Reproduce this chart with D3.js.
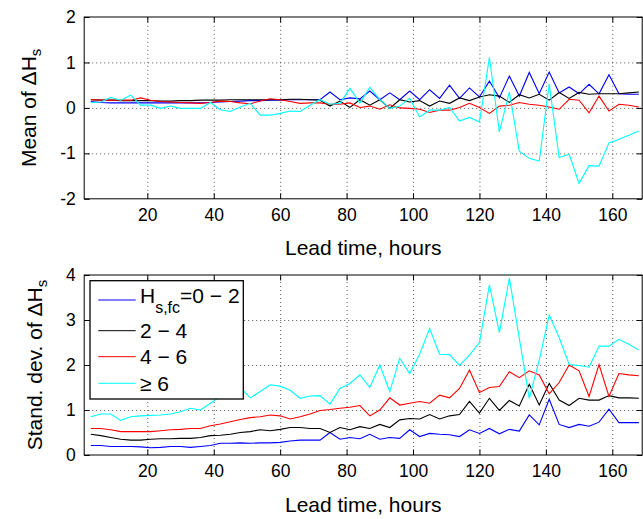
<!DOCTYPE html>
<html>
<head>
<meta charset="utf-8">
<script src="https://cdnjs.cloudflare.com/ajax/libs/d3/7.8.5/d3.min.js"></script>
<style>
  body { margin: 0; background: #fff; }
  svg { font-family: "Liberation Sans", Arial, sans-serif; }
  .tick text { font-size: 17.5px; fill: #000; }
  .tick line { stroke: #000; }
  .grid .tick line { stroke: #555; stroke-dasharray: 1, 3; }
  .domain { display: none; }
</style>
</head>
<body>
<div class="graph-view"></div>
<script>
// lead time, hours (3-hourly)
const leadTimes = [3, 6, 9, 12, 15, 18, 21, 24, 27, 30, 33, 36, 39, 42, 45, 48, 51, 54, 57,
  60, 63, 66, 69, 72, 75, 78, 81, 84, 87, 90, 93, 96, 99, 102, 105, 108, 111, 114, 117,
  120, 123, 126, 129, 132, 135, 138, 141, 144, 147, 150, 153, 156, 159, 162, 165, 168];

// mean of dHs, one array per Hs,fc class
const meanLow = [0.14, 0.12, 0.11, 0.11, 0.11, 0.11, 0.11, 0.11, 0.11, 0.11, 0.11, 0.11, 0.12, 0.13, 0.14, 0.15, 0.16, 0.16, 0.17,
  0.17, 0.18, 0.18, 0.18, 0.18,
  0.35, 0.18, 0.22, 0.20, 0.37, 0.18, 0.33, 0.18, 0.37, 0.18, 0.40, 0.21, 0.50, 0.21, 0.44, 0.24,
  0.59, 0.22, 0.70, 0.26, 0.78, 0.31, 0.79, 0.33, 0.46, 0.31, 0.52, 0.31, 0.73, 0.31, 0.30, 0.30];
const meanMid = [0.18, 0.17, 0.17, 0.16, 0.16, 0.16, 0.16, 0.15, 0.15, 0.16, 0.16, 0.17, 0.17, 0.17, 0.18, 0.18, 0.18, 0.18, 0.18,
  0.18, 0.19, 0.19, 0.18, 0.17,
  0.04, 0.15, 0.01, 0.18, 0.06, 0.18, -0.01, 0.18, 0.13, 0.16, 0.04, 0.15, 0.10, 0.22, 0.16, 0.24,
  0.29, 0.26, 0.12, 0.29, 0.22, 0.30, 0.17, 0.34, 0.21, 0.34, 0.30, 0.31, 0.31, 0.31, 0.33, 0.35];
const meanHigh = [0.18, 0.17, 0.17, 0.17, 0.17, 0.22, 0.17, 0.14, 0.13, 0.12, 0.11, 0.10, 0.12, 0.15, 0.14, 0.11, 0.09, 0.15, 0.20,
  0.18, 0.14, 0.10, 0.11, 0.11,
  0.08, 0.08, 0.11, 0.01, 0.04, -0.03, 0.07, 0.00, -0.01, -0.03, -0.10, -0.05, -0.05, 0.01, 0.10, 0.01,
  -0.12, 0.04, 0.06, 0.12, 0.08, 0.06, 0.02, -0.03, 0.19, 0.17, -0.11, 0.26, -0.07, 0.08, 0.06, 0.02];
const meanTop = [0.12, 0.13, 0.23, 0.17, 0.28, 0.06, 0.06, -0.01, 0.04, -0.01, -0.01, -0.01, 0.12, -0.04, -0.08, 0.02, 0.10, -0.16, -0.16,
  -0.12, -0.07, -0.08, 0.06, 0.18,
  0.08, 0.10, 0.43, 0.11, 0.45, 0.18, -0.01, 0.04, 0.21, -0.20, -0.05, -0.05, 0.01, -0.29, -0.21, -0.31,
  1.11, -0.53, 0.35, -0.95, -1.11, -1.17, 0.53, -1.09, -1.02, -1.66, -1.27, -1.28, -0.77, -0.69, -0.60, -0.51];

// standard deviation of dHs
const sdLow = [0.21, 0.21, 0.19, 0.19, 0.19, 0.18, 0.16, 0.17, 0.19, 0.19, 0.17, 0.19, 0.21, 0.26, 0.26, 0.27, 0.26, 0.27, 0.27,
  0.28, 0.31, 0.33, 0.33, 0.33,
  0.50, 0.35, 0.39, 0.36, 0.46, 0.35, 0.39, 0.37, 0.56, 0.41, 0.48, 0.46, 0.45, 0.41, 0.56, 0.48,
  0.59, 0.47, 0.57, 0.53, 0.89, 0.67, 1.24, 0.68, 0.61, 0.68, 0.64, 0.73, 1.02, 0.72, 0.72, 0.72];
const sdMid = [0.46, 0.43, 0.39, 0.35, 0.33, 0.33, 0.35, 0.36, 0.36, 0.37, 0.37, 0.39, 0.43, 0.44, 0.46, 0.50, 0.52, 0.56, 0.54,
  0.57, 0.61, 0.61, 0.59, 0.59,
  0.50, 0.61, 0.56, 0.63, 0.59, 0.68, 0.61, 0.78, 0.81, 0.80, 0.90, 0.80, 0.87, 0.90, 1.19, 0.93,
  1.26, 0.99, 1.21, 1.09, 1.57, 1.11, 1.59, 1.22, 1.10, 1.26, 1.22, 1.22, 1.32, 1.27, 1.27, 1.26];
const sdHigh = [0.59, 0.59, 0.56, 0.52, 0.52, 0.52, 0.52, 0.54, 0.56, 0.57, 0.59, 0.59, 0.65, 0.69, 0.74, 0.79, 0.83, 0.85, 0.89,
  0.87, 0.80, 0.85, 0.91, 0.99,
  1.01, 1.04, 1.06, 1.10, 0.87, 1.00, 1.27, 1.11, 1.15, 1.19, 1.15, 1.33, 1.27, 1.48, 1.89, 1.39,
  1.50, 1.52, 1.85, 1.72, 1.87, 1.78, 1.36, 1.61, 2.00, 1.87, 1.30, 2.01, 1.30, 1.81, 1.78, 1.76];
const sdTop = [0.85, 0.91, 0.91, 0.77, 0.85, 0.87, 0.88, 0.89, 0.91, 0.96, 1.04, 1.00, 1.15, 1.30, 1.35, 1.50, 1.27, 1.41, 1.56,
  1.53, 1.44, 1.26, 1.31, 1.32,
  1.13, 1.48, 1.59, 1.78, 1.50, 2.00, 1.41, 2.15, 1.81, 2.24, 2.81, 2.24, 2.23, 1.99, 2.22, 2.50,
  3.78, 2.72, 3.93, 2.59, 1.26, 2.11, 3.11, 2.61, 2.01, 1.99, 1.95, 2.42, 2.42, 2.57, 2.46, 2.33];

const xTicks = [20, 40, 60, 80, 100, 120, 140, 160];
const meanTicks = [-2, -1, 0, 1, 2];
const sdTicks = [0, 1, 2, 3, 4];
const colors = ['#0000ff', '#000000', '#ff0000', '#00ffff'];
const legendLabels = ['=0 \u2212 2', '2 \u2212 4', '4 \u2212 6', '\u2265 6'];

const w = 643, h = 519,
  left = 84.2, right = 642.2, tickLen = 5.5;

const svg = d3.select('.graph-view').append('svg')
  .attr('width', w)
  .attr('height', h);

const xScale = d3.scaleLinear()
  .domain([1, 169])
  .range([left, right]);

function drawPanel(top, bottom, domain, ticks, series, label, labelX) {
  const yScale = d3.scaleLinear().domain(domain).range([bottom, top]);
  const g = svg.append('g');

  // grid
  g.append('g').attr('class', 'grid')
    .attr('transform', 'translate(0,' + bottom + ')')
    .call(d3.axisBottom(xScale).tickValues(xTicks).tickSize(-(bottom - top)).tickFormat(''));
  g.append('g').attr('class', 'grid')
    .attr('transform', 'translate(' + left + ',0)')
    .call(d3.axisLeft(yScale).tickValues(ticks.slice(1, -1)).tickSize(-(right - left)).tickFormat(''));

  // lines
  const lineFunc = d3.line()
    .x(function(d, i) { return xScale(leadTimes[i]); })
    .y(function(d) { return yScale(d); });

  series.forEach(function(s, i) {
    g.append('path')
      .attr('d', lineFunc(s))
      .attr('fill', 'none')
      .attr('stroke', colors[i])
      .attr('stroke-width', 1.1);
  });

  // axes, ticks pointing inward
  g.append('g')
    .attr('transform', 'translate(0,' + bottom + ')')
    .call(d3.axisBottom(xScale).tickValues(xTicks).tickSize(-tickLen).tickPadding(9.5));
  g.append('g')
    .attr('transform', 'translate(0,' + top + ')')
    .call(d3.axisTop(xScale).tickValues(xTicks).tickSize(-tickLen).tickFormat(''));
  g.append('g')
    .attr('transform', 'translate(' + left + ',0)')
    .call(d3.axisLeft(yScale).tickValues(ticks).tickSize(-tickLen).tickPadding(8.5)
      .tickFormat(function(d) { return String(d); }));
  g.append('g')
    .attr('transform', 'translate(' + right + ',0)')
    .call(d3.axisRight(yScale).tickValues(ticks).tickSize(-tickLen).tickFormat(''));

  g.append('rect')
    .attr('x', left).attr('y', top)
    .attr('width', right - left).attr('height', bottom - top)
    .attr('fill', 'none').attr('stroke', '#000').attr('stroke-width', 1);

  // x label
  g.append('text')
    .attr('x', (left + right) / 2)
    .attr('y', bottom + 56.5)
    .attr('text-anchor', 'middle')
    .attr('font-size', 21)
    .text('Lead time, hours');

  // y label with subscript
  const yl = g.append('text')
    .attr('transform', 'translate(' + labelX + ',' + (top + bottom) / 2 + ') rotate(-90)')
    .attr('text-anchor', 'middle')
    .attr('font-size', 21);
  yl.append('tspan').text(label + ' of \u0394H');
  yl.append('tspan').attr('dy', 5).attr('font-size', 15).text('s');

  return yScale;
}

drawPanel(17, 198.8, [-2, 2], meanTicks, [meanLow, meanMid, meanHigh, meanTop], 'Mean', 36);
drawPanel(275, 455, [0, 4], sdTicks, [sdLow, sdMid, sdHigh, sdTop], 'Stand. dev.', 42);

// legend
const legend = svg.append('g');
legend.append('rect')
  .attr('x', 90).attr('y', 280.7)
  .attr('width', 153.3).attr('height', 118.3)
  .attr('fill', '#fff').attr('stroke', '#000').attr('stroke-width', 1.3);

const rowY = [300, 330.7, 356.7, 383.3];
legendLabels.forEach(function(lab, i) {
  legend.append('line')
    .attr('x1', 98.3).attr('x2', 135.7)
    .attr('y1', rowY[i]).attr('y2', rowY[i])
    .attr('stroke', colors[i]).attr('stroke-width', 1);
  const t = legend.append('text')
    .attr('x', 140)
    .attr('font-size', 21);
  if (i === 0) {
    t.attr('y', 303);
    t.append('tspan').text('H');
    t.append('tspan').attr('dy', 10).attr('font-size', 16).text('s,fc');
    t.append('tspan').attr('dy', -10).text(lab);
  } else {
    t.attr('y', rowY[i] + 7.5).text(lab);
  }
});
</script>
</body>
</html>
